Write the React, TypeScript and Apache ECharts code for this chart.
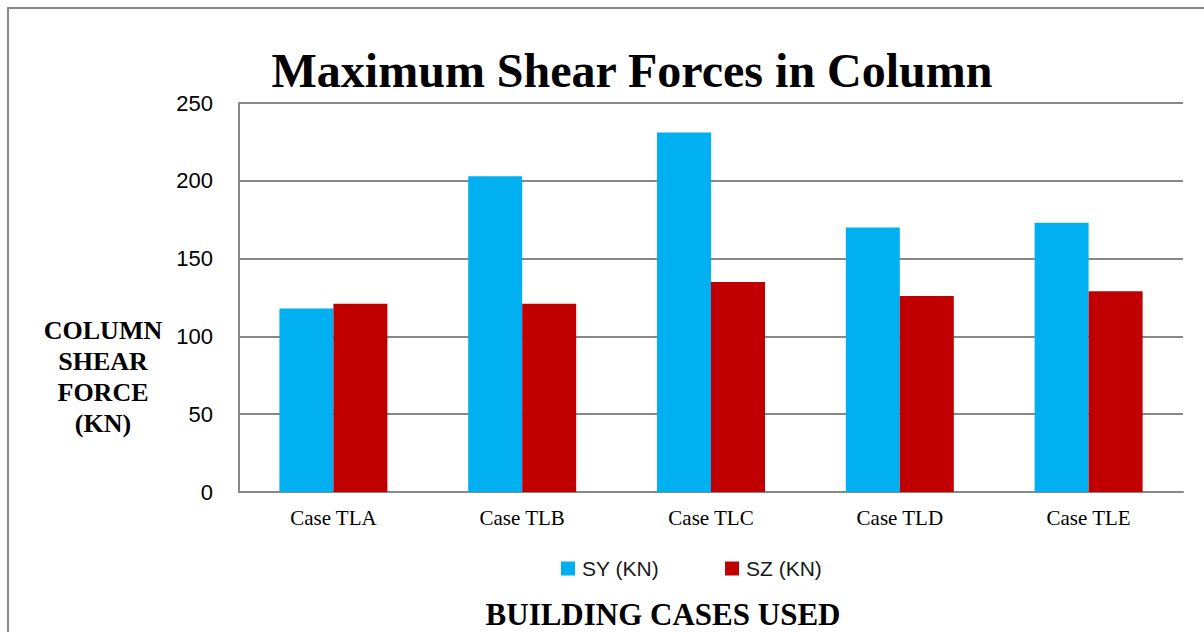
import React, { useEffect, useRef } from "react";
import * as echarts from "echarts";

const categories = ["Case TLA", "Case TLB", "Case TLC", "Case TLD", "Case TLE"];
const syValues = [118, 203, 231, 170, 173];
const szValues = [121, 121, 135, 126, 129];
const seriesNames = ["SY (KN)", "SZ (KN)"];
const titleText = "Maximum Shear Forces in Column";
const yAxisTitle = ["COLUMN", "SHEAR", "FORCE", "(KN)"];
const xAxisTitle = "BUILDING CASES USED";

export default function App() {
  const ref = useRef<HTMLDivElement>(null);
  useEffect(() => {
    if (!ref.current) return;
    const chart = echarts.init(ref.current, null, { renderer: "svg" });
    const serif = "'Liberation Serif', 'Times New Roman', serif";
    const sans = "'Liberation Sans', Arial, sans-serif";
    chart.setOption({
      animation: false,
      backgroundColor: "#ffffff",
      grid: { left: 239, right: 21, top: 103, bottom: 140, containLabel: false },
      legend: {
        data: seriesNames,
        left: 561,
        top: 558,
        padding: 0,
        icon: "rect",
        itemWidth: 14,
        itemHeight: 14,
        itemGap: 66,
        textStyle: { fontFamily: sans, fontSize: 21, color: "#1a1a1a", padding: [0, 0, 0, 2] },
      },
      xAxis: {
        type: "category",
        data: categories,
        axisLine: { show: true, lineStyle: { color: "#888888", width: 2 } },
        axisTick: { show: false },
        axisLabel: { fontFamily: serif, fontSize: 21, color: "#000000", margin: 15 },
      },
      yAxis: {
        type: "value",
        min: 0,
        max: 250,
        interval: 50,
        axisLine: { show: true, lineStyle: { color: "#888888", width: 2 } },
        axisTick: { show: false },
        axisLabel: { fontFamily: sans, fontSize: 22, color: "#000000", margin: 26 },
        splitLine: { show: true, lineStyle: { color: "#888888", width: 2 } },
      },
      series: [
        {
          name: seriesNames[0],
          type: "bar",
          data: syValues,
          barWidth: 54,
          barGap: "0%",
          itemStyle: { color: "#00B0F0" },
        },
        {
          name: seriesNames[1],
          type: "bar",
          data: szValues,
          barWidth: 54,
          barGap: "0%",
          itemStyle: { color: "#C00000" },
        },
      ],
      graphic: [
        {
          type: "rect",
          shape: { x: 8, y: 8, width: 1230, height: 650 },
          style: { fill: "none", stroke: "#888888", lineWidth: 2 },
          silent: true,
        },
        {
          type: "text",
          x: 632,
          y: 70,
          style: {
            text: titleText,
            fontFamily: serif,
            fontWeight: "bold",
            fontSize: 48,
            fill: "#000000",
            align: "center",
            verticalAlign: "middle",
          },
        },
        ...yAxisTitle.map((t, i) => ({
          type: "text",
          x: 103,
          y: 330 + i * 31,
          style: {
            text: t,
            fontFamily: serif,
            fontWeight: "bold",
            fontSize: 26,
            fill: "#000000",
            align: "center",
            verticalAlign: "middle",
          },
        })),
        {
          type: "text",
          x: 663,
          y: 614,
          style: {
            text: xAxisTitle,
            fontFamily: serif,
            fontWeight: "bold",
            fontSize: 31,
            fill: "#000000",
            align: "center",
            verticalAlign: "middle",
          },
        },
      ],
    });
    return () => chart.dispose();
  }, []);
  return (
    <div
      ref={ref}
      style={{ position: "absolute", left: 0, top: 0, width: 1204, height: 632, background: "#fff" }}
    />
  );
}
